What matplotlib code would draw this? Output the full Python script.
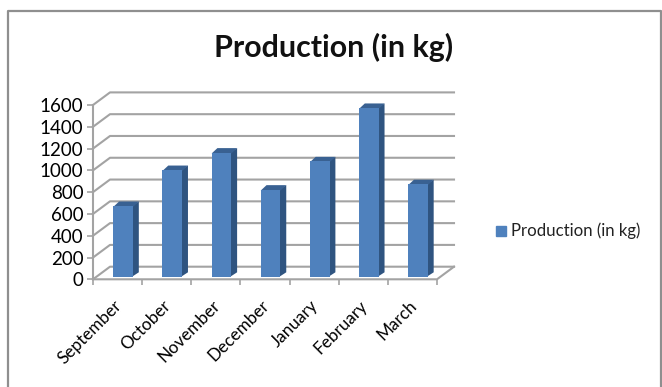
"""
Production (in kg) per month, pseudo-3D column chart
"""

import matplotlib
matplotlib.use('Agg')
import matplotlib.pyplot as plt
from matplotlib.lines import Line2D
from matplotlib.patches import Polygon, Rectangle

months = ['September', 'October', 'November', 'December', 'January', 'February', 'March']
production = [650, 980, 1140, 800, 1060, 1550, 850]
y_ticks = [0, 200, 400, 600, 800, 1000, 1200, 1400, 1600]
series_name = 'Production (in kg)'

W, H = 662, 387
plt.rcParams['font.family'] = ['Lato', 'DejaVu Sans']

fig = plt.figure(figsize=(W / 100, H / 100), dpi=100)

# axes box is the front edge of the 3D floor and left wall
left, right, bottom, top = 93, 437, 279.3, 105
ax = fig.add_axes([left / W, 1 - bottom / H, (right - left) / W, (bottom - top) / H])
ax.set_xlim(0, len(months))
ax.set_ylim(0, 1600)
ax.patch.set_visible(False)
for s in ax.spines.values():
    s.set_visible(False)

# one screen pixel in data units
px = len(months) / (right - left)
py = 1600 / (bottom - top)
depth_x = 17 * px
depth_y = 12.6 * py

grey = '#a3a3a3'
for v in y_ticks:
    ax.plot([0, depth_x, len(months) + depth_x], [v, v + depth_y, v + depth_y],
            color=grey, lw=1.5, clip_on=False, zorder=1)
ax.plot([0, 0], [0, 1600], color=grey, lw=1.5, clip_on=False, zorder=1)
ax.plot([0, len(months), len(months) + depth_x], [0, 0, depth_y],
        color=grey, lw=1.5, clip_on=False, zorder=1)

# columns: front face from bar(), side and cap as polygons behind it
bar_w = 19.7 * px
shift = 5.6 * px
base = 2.6 * py
side_x = 5.8 * px
side_y = 4.4 * py
xs = [i + 0.5 + shift for i in range(len(months))]
ax.bar(xs, production, width=bar_w, bottom=base, color='#4f81bd', clip_on=False, zorder=4)
for x, v in zip(xs, production):
    x0, x1 = x - bar_w / 2, x + bar_w / 2
    t = v + base
    ax.add_patch(Polygon([(x1 - px, base), (x1 + side_x, base + side_y), (x1 + side_x, t + side_y), (x1 - px, t)],
                         color='#2f5480', lw=0, clip_on=False, zorder=3))
    ax.add_patch(Polygon([(x0, t - py), (x0 + side_x, t + side_y), (x1 + side_x, t + side_y), (x1, t - py)],
                         color='#396192', lw=0, clip_on=False, zorder=3))

ax.set_yticks(y_ticks)
ax.set_xticks(range(len(months) + 1))
ax.set_xticklabels([])
ax.set_xticks([i + 0.5 - 4 * px for i in range(len(months))], minor=True)
ax.set_xticklabels(months, minor=True, rotation=45, ha='right', rotation_mode='anchor', fontsize=12.3)
ax.tick_params(axis='x', which='major', length=4, width=1.2, color=grey)
ax.tick_params(axis='x', which='minor', length=0, pad=13)
ax.tick_params(axis='y', length=4, width=1.2, color=grey, labelsize=13.5, pad=3)

fig.text(334 / W, 1 - 47 / H, series_name, ha='center', va='center',
         fontsize=21.9, fontweight='bold', color='#111111')

# legend swatch and label
fig.add_artist(Rectangle((496 / W, 1 - 236 / H), 10 / W, 10 / H, color='#4f81bd',
                         transform=fig.transFigure))
fig.text(511 / W, 1 - 231 / H, series_name, ha='left', va='center', fontsize=12.1, color='#222222')

# chart area border, open at the bottom
fig.add_artist(Line2D([8 / W, 8 / W, 661 / W, 661 / W],
                      [0, 1 - 10.5 / H, 1 - 10.5 / H, 0],
                      color='#8f8f8f', lw=1.6, transform=fig.transFigure))

fig.savefig('out.png', dpi=100)
